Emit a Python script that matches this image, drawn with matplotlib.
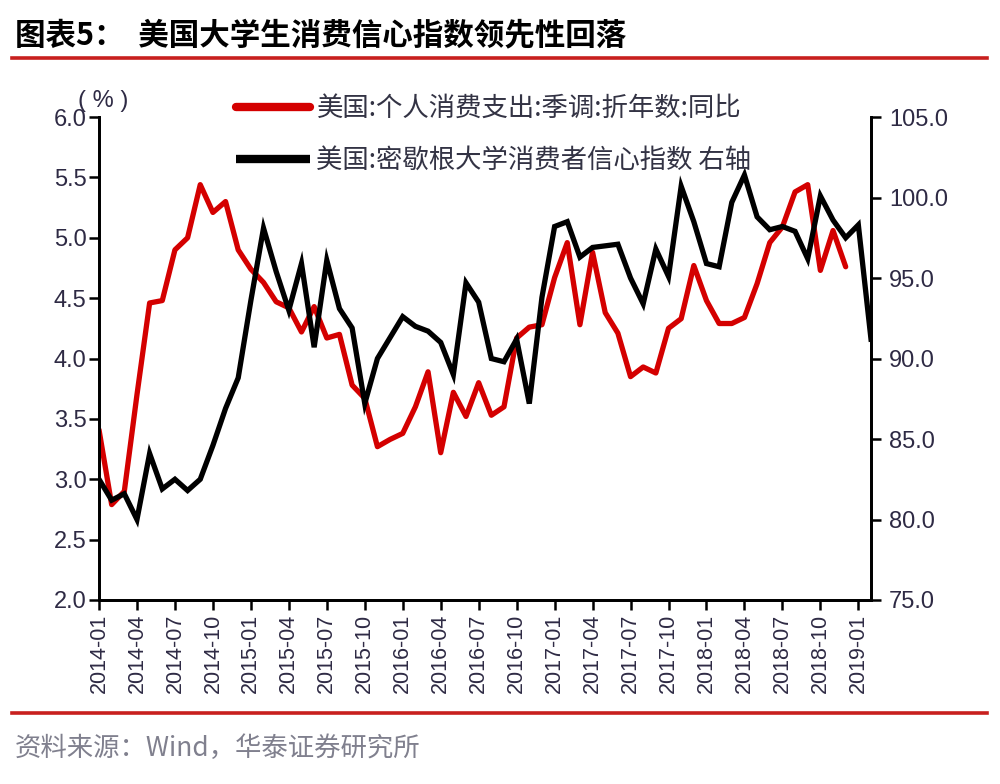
import numpy as np
import pandas as pd
import matplotlib
matplotlib.use("Agg")
import matplotlib.pyplot as plt
from matplotlib.lines import Line2D

plt.rcParams['font.family'] = ['Noto Sans CJK SC', 'DejaVu Sans']

# ---- data ----
months = list(pd.date_range('2014-01', periods=62, freq='MS').strftime('%Y-%m'))

pce_yoy = [3.41, 2.79, 2.90, 3.70, 4.46, 4.48, 4.90, 5.00, 5.44, 5.21,
           5.30, 4.90, 4.74, 4.63, 4.47, 4.42, 4.22, 4.43, 4.17, 4.20,
           3.78, 3.67, 3.27, 3.33, 3.38, 3.60, 3.89, 3.22, 3.72, 3.52,
           3.80, 3.53, 3.60, 4.17, 4.26, 4.28, 4.67, 4.96, 4.28, 4.88,
           4.38, 4.21, 3.85, 3.93, 3.88, 4.25, 4.33, 4.77, 4.48, 4.29,
           4.29, 4.34, 4.62, 4.96, 5.09, 5.38, 5.44, 4.73, 5.06, 4.76]

michigan = [82.5, 81.2, 81.6, 80.0, 84.1, 81.9, 82.5, 81.8, 82.5, 84.6,
            86.9, 88.8, 93.6, 98.1, 95.4, 93.0, 95.9, 90.7, 96.1, 93.1,
            91.9, 87.2, 90.0, 91.3, 92.6, 92.0, 91.7, 91.0, 89.0, 94.7,
            93.5, 90.0, 89.8, 91.2, 87.2, 93.8, 98.2, 98.5, 96.3, 96.9,
            97.0, 97.1, 95.0, 93.4, 96.8, 95.1, 100.7, 98.5, 95.9, 95.7,
            99.7, 101.4, 98.8, 98.0, 98.2, 97.9, 96.2, 100.1, 98.6, 97.5,
            98.3, 91.2]

label_red = '美国:个人消费支出:季调:折年数:同比'
label_black = '美国:密歇根大学消费者信心指数 右轴'
title = '图表5：  美国大学生消费信心指数领先性回落'
source = '资料来源：Wind，华泰证券研究所'

left_ticks = [2.0, 2.5, 3.0, 3.5, 4.0, 4.5, 5.0, 5.5, 6.0]
right_ticks = [75.0, 80.0, 85.0, 90.0, 95.0, 100.0, 105.0]

# ---- style ----
RED = '#d40000'
TXT = '#2e2a44'
num_font = ['Liberation Sans Narrow', 'Liberation Sans', 'DejaVu Sans']

fig = plt.figure(figsize=(10, 7.84), dpi=100)
ax = fig.add_axes([0.099, 0.2347, 0.772, 0.616])
ax2 = ax.twinx()

x_red = np.arange(len(pce_yoy))
x_blk = np.arange(len(michigan))
ax.plot(x_red, pce_yoy, color=RED, lw=3.8, solid_joinstyle='round', solid_capstyle='round')
ax2.plot(x_blk, michigan, color='black', lw=3.8, solid_joinstyle='miter')

ax.set_xlim(0, len(months) - 1)
ax.set_ylim(2, 6)
ax2.set_ylim(75, 105)

ax.set_yticks(left_ticks)
ax.set_yticklabels([f'{v:.1f}' for v in left_ticks], family=num_font, fontsize=17, color=TXT)
ax2.set_yticks(right_ticks)
ax2.set_yticklabels([f'{v:.1f}' for v in right_ticks], family=num_font, fontsize=17, color=TXT)

xt = list(range(0, len(months), 3))
ax.set_xticks(xt)
ax.set_xticklabels([months[i] for i in xt], rotation=90, family=num_font, fontsize=15.5, color=TXT)

for a in (ax, ax2):
    a.spines['top'].set_visible(False)
    for s in ('left', 'right', 'bottom'):
        a.spines[s].set_linewidth(2.0)
        a.spines[s].set_color('black')
    a.tick_params(direction='out', length=7, width=1.8, colors='black')
ax.tick_params(axis='y', pad=2, labelcolor=TXT)
ax.tick_params(axis='x', pad=3, labelcolor=TXT)
ax2.tick_params(axis='y', pad=6, labelcolor=TXT)
ax.set_facecolor('none')

# (%) label
fig.text(0.103, 0.871, '( % )', fontsize=17, color=TXT, ha='center', va='center',
         family=['Liberation Sans', 'DejaVu Sans'])

# legend
handles = [Line2D([], [], color=RED, lw=6, solid_capstyle='round'),
           Line2D([], [], color='black', lw=6, solid_capstyle='butt')]
leg = ax2.legend(handles, [label_red, label_black], loc='upper left',
                 bbox_to_anchor=(0.236, 0.879), bbox_transform=fig.transFigure,
                 frameon=False, borderpad=0, borderaxespad=0, fontsize=19,
                 handlelength=2.8, handletextpad=0.25, labelspacing=0.95)
for t in leg.get_texts():
    t.set_color('#333344')

# title & source
fig.text(0.015, 0.955, title, fontsize=22, fontweight='bold', color='black',
         ha='left', va='center')
fig.add_artist(Line2D([0.012, 0.987], [1 - 58 / 784] * 2, color='#c8201e', lw=2.6))
fig.add_artist(Line2D([0.012, 0.987], [1 - 713 / 784] * 2, color='#c8201e', lw=2.6))
fig.text(0.015, 1 - 748 / 784, source, fontsize=19, color='#80808e', ha='left', va='center')

fig.savefig('out.png', dpi=100)
